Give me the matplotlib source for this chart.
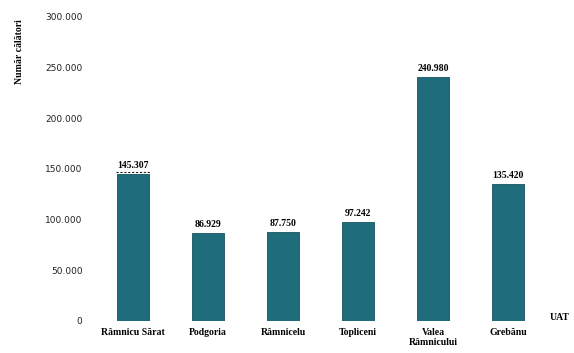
import matplotlib.pyplot as plt
from matplotlib.ticker import FuncFormatter

uat = ["Râmnicu Sărat", "Podgoria", "Râmnicelu", "Topliceni", "Valea\nRâmnicului", "Grebănu"]
calatori = [145307, 86929, 87750, 97242, 240980, 135420]
yticks = [0, 50000, 100000, 150000, 200000, 250000, 300000]

def fmt_ro(v, pos=None):
    # thousands separated with a dot
    return "{:,.0f}".format(v).replace(",", ".")

fig = plt.figure(figsize=(5.74, 3.53), dpi=100)
ax = fig.add_axes([88 / 574, 32 / 353, 486 / 574, 304 / 353])

x = range(len(uat))
bars = ax.bar(x, calatori, width=0.42, color="#1e6c7c", edgecolor="#17535f", linewidth=0.6)

for xi, v in zip(x, calatori):
    ax.text(xi, v + 4000, fmt_ro(v), ha="center", va="bottom",
            fontsize=7, fontweight="bold", family="Liberation Serif")

# dotted marker on top of the first bar
ax.plot([-0.23, 0.23], [calatori[0] + 2000] * 2, ls=(0, (2, 1.5)), color="#222222", lw=0.8)

ax.set_xlim(-0.6, 5.88)
ax.set_ylim(0, 300000)
ax.set_yticks(yticks)
ax.yaxis.set_major_formatter(FuncFormatter(fmt_ro))
ax.set_xticks(list(x))
ax.set_xticklabels(uat, fontsize=7, fontweight="bold", family="Liberation Serif")
ax.tick_params(axis="y", labelsize=6.5, labelcolor="#222222", length=0, pad=4)
ax.tick_params(axis="x", length=0, pad=5)
for s in ax.spines.values():
    s.set_visible(False)

fig.text(20 / 574, 1 - 52 / 353, "Număr călători", rotation=90, ha="center", va="center",
         fontsize=7, fontweight="bold", family="Liberation Serif")
fig.text(560 / 574, 1 - 318 / 353, "UAT", ha="center", va="center",
         fontsize=7, fontweight="bold", family="Liberation Serif")

fig.savefig("out.png", dpi=100)
